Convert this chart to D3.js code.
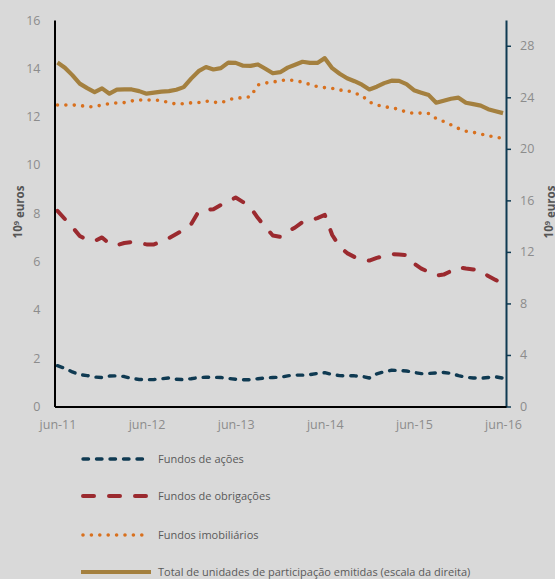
<!DOCTYPE html>
<html>
<head>
<meta charset="utf-8">
<script src="https://cdn.jsdelivr.net/npm/d3@7"></script>
<style>
  html, body { margin: 0; padding: 0; background: #d9d9d9; }
  svg { display: block; font-family: "Open Sans", sans-serif; }
</style>
</head>
<body>
<svg id="chart" width="555" height="579"></svg>
<script>
// monthly observations, jun-11 .. jun-16 (61 months)
const monthNames = ['jan','fev','mar','abr','mai','jun','jul','ago','set','out','nov','dez'];
const months = [];
for (let y = 11; y <= 16; y++) {
    monthNames.forEach((m, k) => {
        if ((y === 11 && k < 5) || (y === 16 && k > 5)) return;
        months.push(`${m}-${y}`);
    });
}
const xTickLabels = ['jun-11', 'jun-12', 'jun-13', 'jun-14', 'jun-15', 'jun-16'];
const leftTicks = [0, 2, 4, 6, 8, 10, 12, 14, 16];
const rightTicks = [0, 4, 8, 12, 16, 20, 24, 28];

// 10^9 euros, left scale
const acoes = [1.69, 1.58, 1.43, 1.32, 1.28, 1.22, 1.20, 1.26, 1.27, 1.24, 1.16, 1.12, 1.11,
    1.12, 1.15, 1.18, 1.13, 1.11, 1.15, 1.20, 1.21, 1.21, 1.20, 1.16, 1.13,
    1.11, 1.11, 1.15, 1.18, 1.20, 1.21, 1.27, 1.30, 1.30, 1.32, 1.37, 1.40,
    1.32, 1.28, 1.27, 1.27, 1.25, 1.18, 1.35, 1.44, 1.50, 1.49, 1.47, 1.41,
    1.36, 1.37, 1.39, 1.41, 1.37, 1.28, 1.21, 1.18, 1.17, 1.20, 1.23, 1.17];
const obrigacoes = [8.10, 7.76, 7.43, 7.06, 6.89, 6.85, 7.00, 6.73, 6.68, 6.77, 6.81, 6.77, 6.71,
    6.71, 6.83, 6.97, 7.14, 7.31, 7.55, 8.07, 8.13, 8.17, 8.34, 8.49, 8.65,
    8.46, 8.24, 7.80, 7.43, 7.08, 7.02, 7.24, 7.41, 7.64, 7.70, 7.80, 7.93,
    7.10, 6.62, 6.35, 6.19, 6.08, 6.04, 6.15, 6.23, 6.31, 6.29, 6.27, 5.92,
    5.71, 5.57, 5.42, 5.46, 5.61, 5.77, 5.71, 5.67, 5.63, 5.40, 5.24, 5.09];
const imobiliarios = [12.48, 12.48, 12.48, 12.47, 12.40, 12.42, 12.48, 12.54, 12.57, 12.58, 12.65, 12.69, 12.69,
    12.69, 12.67, 12.58, 12.52, 12.54, 12.57, 12.58, 12.64, 12.60, 12.57, 12.69, 12.77,
    12.78, 12.83, 13.31, 13.39, 13.43, 13.49, 13.53, 13.48, 13.43, 13.33, 13.24, 13.20,
    13.17, 13.10, 13.08, 12.98, 12.87, 12.60, 12.49, 12.40, 12.38, 12.29, 12.19, 12.13,
    12.15, 12.13, 11.92, 11.80, 11.66, 11.51, 11.40, 11.35, 11.28, 11.21, 11.15, 11.10];
// right scale
const totalUP = [26.70, 26.30, 25.72, 25.06, 24.71, 24.40, 24.69, 24.28, 24.59, 24.61, 24.61, 24.48, 24.28,
    24.36, 24.44, 24.48, 24.59, 24.79, 25.45, 26.03, 26.35, 26.16, 26.26, 26.69, 26.67,
    26.45, 26.44, 26.55, 26.22, 25.87, 25.95, 26.30, 26.53, 26.76, 26.67, 26.67, 27.04,
    26.26, 25.83, 25.48, 25.25, 24.98, 24.61, 24.82, 25.10, 25.29, 25.27, 25.02, 24.55,
    24.36, 24.17, 23.58, 23.74, 23.89, 23.97, 23.58, 23.47, 23.35, 23.08, 22.92, 22.77];

const seriesNames = ['Fundos de ações', 'Fundos de obrigações', 'Fundos imobiliários',
    'Total de unidades de participação emitidas (escala da direita)'];

const svg = d3.select('svg#chart');
const margin = {top: 20, right: 49, bottom: 172.5, left: 54.5};
const width = +svg.attr('width');
const height = +svg.attr('height');
const innerWidth = width - margin.left - margin.right;
const innerHeight = height - margin.top - margin.bottom;

const styles = [
    {color: '#0f3a52', width: 3.4, dash: '5.5,8', values: acoes, right: false},
    {color: '#9b2a2f', width: 4, dash: '11,15', values: obrigacoes, right: false},
    {color: '#d8701e', width: 3.6, dash: '0,8.4', values: imobiliarios, right: false},
    {color: '#a4803f', width: 4.2, dash: null, values: totalUP, right: true}
];

const xScale = d3.scalePoint().domain(months).range([0, innerWidth]).padding(0.4);
const yLeft = d3.scaleLinear().domain([0, 16]).range([innerHeight, 0]);
const yRight = d3.scaleLinear().domain([0, 30]).range([innerHeight, 0]);

const g = svg.append('g').attr('transform', `translate(${margin.left}, ${margin.top})`);

// lines
styles.forEach(s => {
    const yS = s.right ? yRight : yLeft;
    const line = d3.line()
        .x((d, i) => xScale(months[i]))
        .y(d => yS(d));
    g.append('path')
        .datum(s.values)
        .attr('fill', 'none')
        .attr('stroke', s.color)
        .attr('stroke-width', s.width)
        .attr('stroke-linejoin', 'round')
        .attr('stroke-linecap', s.dash ? 'round' : 'butt')
        .attr('stroke-dasharray', s.dash)
        .attr('d', line);
});

// tidy up axis group defaults so the labels carry their own style
const styleAxis = sel => {
    sel.attr('fill', null).attr('font-size', null).attr('font-family', null);
    sel.select('.domain').attr('fill', 'none');
    sel.selectAll('text').attr('fill', '#8c8c8c').attr('font-size', 12.5);
};

// left axis
const yAxisL = d3.axisLeft(yLeft).tickValues(leftTicks).tickSize(0).tickSizeOuter(0).tickPadding(14);
const gL = g.append('g').call(yAxisL).call(styleAxis);
gL.select('.domain').attr('stroke', '#000').attr('stroke-width', 2);

// right axis
const yAxisR = d3.axisRight(yRight).tickValues(rightTicks).tickSize(5).tickSizeOuter(0).tickPadding(9);
const gR = g.append('g').attr('transform', `translate(${innerWidth}, 0)`).call(yAxisR).call(styleAxis);
gR.select('.domain').attr('stroke', '#0f3a52').attr('stroke-width', 2);
gR.selectAll('.tick line').attr('stroke', '#0f3a52').attr('stroke-width', 1.5);

// bottom axis
const xAxis = d3.axisBottom(xScale).tickValues(xTickLabels).tickSize(0).tickSizeOuter(0).tickPadding(14);
const gX = g.append('g').attr('transform', `translate(0, ${innerHeight})`).call(xAxis).call(styleAxis);
gX.select('.domain').attr('stroke', '#000').attr('stroke-width', 2.2);

// axis titles
const titleY = 212;
[18, 549].forEach(x => {
    const txt = svg.append('text')
        .attr('transform', `translate(${x}, ${titleY}) rotate(-90)`)
        .attr('text-anchor', 'middle')
        .attr('dy', '0.35em')
        .attr('fill', '#555')
        .attr('font-size', 11.5)
        .attr('font-weight', 'bold');
    txt.append('tspan').text('10');
    txt.append('tspan').attr('dy', '-0.45em').attr('font-size', 7.5).text('9');
    txt.append('tspan').attr('dy', '0.45em').text(' euros');
});

// legend
const legendY = [459, 496, 535, 572];
const legend = svg.append('g');
styles.forEach((s, i) => {
    const row = legend.append('g').attr('transform', `translate(0, ${legendY[i]})`);
    row.append('line')
        .attr('x1', s.dash ? 83 : 81).attr('x2', s.dash ? 149 : 151)
        .attr('stroke', s.color)
        .attr('stroke-width', s.width)
        .attr('stroke-linecap', s.dash ? 'round' : 'butt')
        .attr('stroke-dasharray', s.dash);
    row.append('text')
        .attr('x', 158)
        .attr('dy', '0.35em')
        .attr('fill', '#595959')
        .attr('font-size', 11)
        .text(seriesNames[i]);
});
</script>
</body>
</html>
